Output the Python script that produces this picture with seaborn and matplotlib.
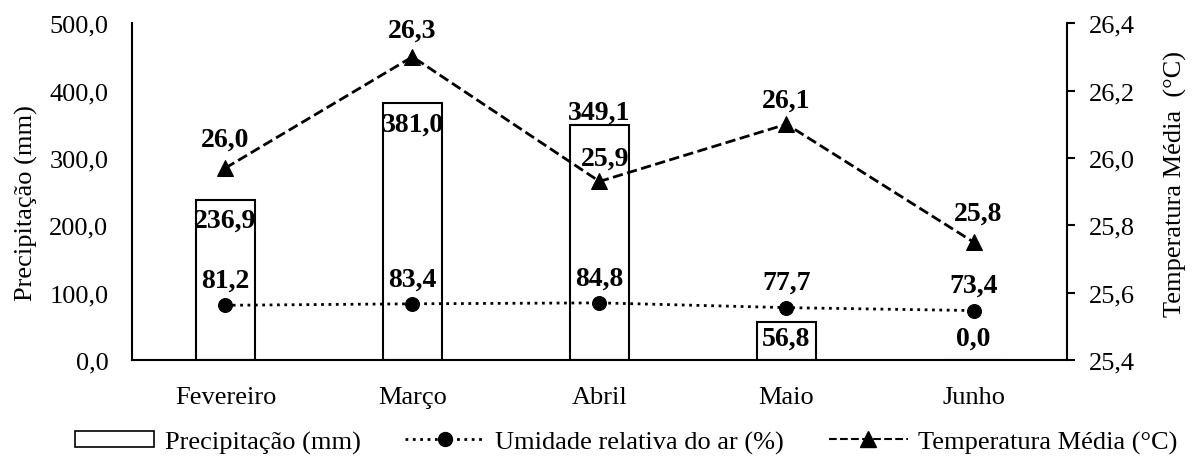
import matplotlib
matplotlib.use("Agg")
import matplotlib.pyplot as plt
import seaborn as sns
import numpy as np
from matplotlib.patches import Patch
from matplotlib.lines import Line2D
from matplotlib.ticker import FuncFormatter, MultipleLocator

# data
meses = ["Fevereiro", "Março", "Abril", "Maio", "Junho"]
precipitacao = [236.9, 381.0, 349.1, 56.8, 0.0]
umidade = [81.2, 83.4, 84.8, 77.7, 73.4]
temperatura = [25.97, 26.30, 25.93, 26.10, 25.75]

sns.set_style("white")
plt.rcParams["font.family"] = ["Liberation Serif", "DejaVu Serif"]
for k in ["text.color", "axes.labelcolor", "xtick.color", "ytick.color"]:
    plt.rcParams[k] = "black"
FS = 19      # tick labels, axis labels, legend
FS_VAL = 20  # bold value labels


def virgula(v, pos=None):
    return f"{v:.1f}".replace(".", ",")


fig = plt.figure(figsize=(11.93, 4.64), dpi=100)
ax = fig.add_axes([0.1106, 0.222, 0.7838, 0.726])
pos = np.arange(len(meses))

# precipitation bars
sns.barplot(x=meses, y=precipitacao, color="white", edgecolor="black",
            linewidth=1.5, width=0.32, saturation=1, ax=ax)

# humidity line (left axis)
sns.lineplot(x=pos, y=umidade, color="black", linestyle=":", linewidth=2,
             marker="o", markersize=10, markeredgecolor="black", ax=ax)

ax.set_xlim(-0.5, len(meses) - 0.5)
ax.set_ylim(0, 500)
ax.yaxis.set_major_locator(MultipleLocator(100))
ax.yaxis.set_major_formatter(FuncFormatter(virgula))
ax.set_xticks(pos)
ax.set_xticklabels(meses)
ax.tick_params(axis="x", length=0, pad=19, labelsize=FS)
ax.tick_params(axis="y", length=0, pad=17, labelsize=FS)
ax.set_ylabel("Precipitação (mm)", fontsize=FS)
ax.yaxis.set_label_coords(-0.100, 0.47)
for s in ["top", "right"]:
    ax.spines[s].set_visible(False)
for s in ["left", "bottom"]:
    ax.spines[s].set_color("black")
    ax.spines[s].set_linewidth(1.5)

# temperature line (right axis)
ax2 = ax.twinx()
sns.lineplot(x=pos, y=temperatura, color="black", linestyle="--", linewidth=2,
             marker="^", markersize=11, markeredgecolor="black", ax=ax2)
ax2.set_ylim(25.4, 26.4)
ax2.yaxis.set_major_locator(MultipleLocator(0.2))
ax2.yaxis.set_major_formatter(FuncFormatter(virgula))
ax2.tick_params(axis="y", direction="out", length=6, width=1.5, pad=10,
                labelsize=FS, right=True, left=False)
ax2.set_ylabel("Temperatura Média  (°C)", fontsize=FS)
ax2.yaxis.set_label_coords(1.104, 0.525)
for s in ["top", "left", "bottom"]:
    ax2.spines[s].set_visible(False)
ax2.spines["right"].set_color("black")
ax2.spines["right"].set_linewidth(1.5)
ax2.grid(False)
ax.grid(False)

# value labels
off_prec = [(0, -14), (0, -15), (0, 9), (0, -11.5), (0, 16)]
for i, v in enumerate(precipitacao):
    ax.annotate(virgula(v), (pos[i], v), xytext=off_prec[i],
                textcoords="offset points", ha="center", va="center",
                fontsize=FS_VAL, fontweight="bold")

for i, v in enumerate(umidade):
    ax.annotate(virgula(v), (pos[i], v), xytext=(0, 18),
                textcoords="offset points", ha="center", va="center",
                fontsize=FS_VAL, fontweight="bold")

off_temp = [(0, 21), (0, 19), (4, 17), (0, 17), (3, 21)]
for i, v in enumerate(temperatura):
    ax2.annotate(virgula(v), (pos[i], v), xytext=off_temp[i],
                 textcoords="offset points", ha="center", va="center",
                 fontsize=FS_VAL, fontweight="bold")

# legend
handles = [
    Patch(facecolor="white", edgecolor="black", linewidth=1.2),
    Line2D([], [], color="black", linestyle=":", linewidth=2,
           marker="o", markersize=10),
    Line2D([], [], color="black", linestyle="--", linewidth=1.5,
           marker="^", markersize=11),
]
labels = ["Precipitação (mm)", "Umidade relativa do ar (%)",
          "Temperatura Média (°C)"]
fig.legend(handles, labels, loc="center", bbox_to_anchor=(0.525, 0.045),
           ncol=3, frameon=False, fontsize=FS, handlelength=3.0,
           handleheight=0.6, handletextpad=0.4, columnspacing=1.7)

fig.savefig("out.png", dpi=100)
